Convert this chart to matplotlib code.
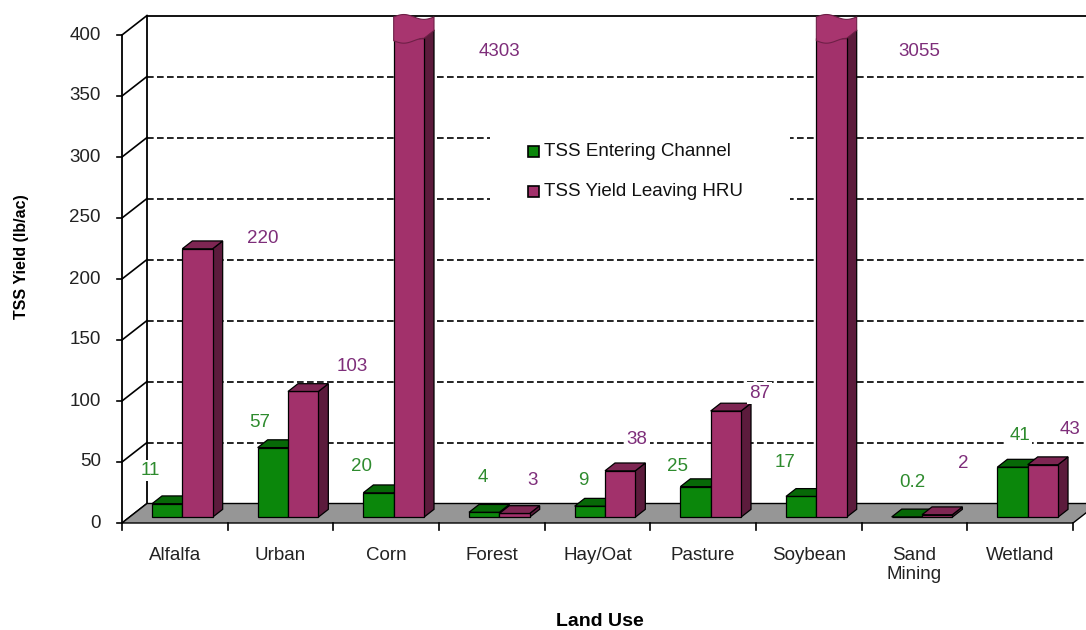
import numpy as np
import matplotlib
matplotlib.use("Agg")
import matplotlib.pyplot as plt
from matplotlib.patches import Polygon, Rectangle

# ---- data -------------------------------------------------------------
categories = ["Alfalfa", "Urban", "Corn", "Forest", "Hay/Oat", "Pasture",
              "Soybean", "Sand\nMining", "Wetland"]
tss_entering = [11, 57, 20, 4, 9, 25, 17, 0.2, 41]
tss_leaving = [220, 103, 4303, 3, 38, 87, 3055, 2, 43]
entering_labels = ["11", "57", "20", "4", "9", "25", "17", "0.2", "41"]
leaving_labels = ["220", "103", "4303", "3", "38", "87", "3055", "2", "43"]
y_ticks = [0, 50, 100, 150, 200, 250, 300, 350, 400]
series_names = ["TSS Entering Channel", "TSS Yield Leaving HRU"]

# label offsets from the top of each bar, in pixels
entering_offsets = [(-17, 33), (-13, 25), (-17, 26), (-1, 35), (-7, 26),
                    (-18, 20), (-16, 34), (6, 34), (7, 32)]
leaving_offsets = [(65, 10), (49, 25), (91, -14), (18, 33), (17, 31),
                   (34, 18), (88, -14), (26, 51), (27, 35)]

# ---- style ------------------------------------------------------------
plt.rcParams['font.family'] = ['Liberation Sans', 'DejaVu Sans']
GREEN = ('#0B870B', '#076807', '#045004')      # front, top, side
PLUM = ('#A2316B', '#7E2653', '#5C1B3C')
GREEN_TXT = '#2E8B2E'
PLUM_TXT = '#7E2E7A'
FLOOR = '#969696'

PX_X = 105.67          # pixels per category
PX_Y = 1.22            # pixels per lb/ac
DX = 25 / PX_X         # depth of the plot box (x)
DY = 19.5 / PX_Y       # depth of the plot box (y)
GAP = 0.426
W = (1 - GAP) / 2
FRONT = 0.3            # depth fraction where bar fronts sit
DEPTH = 0.4            # depth fraction of each bar
CUT = 393              # axis break for bars beyond the scale
YMAX = 400

fig = plt.figure(figsize=(10.86, 6.3), dpi=100)
ax = fig.add_axes([0, 0, 1, 1])
ax.set_xlim(-122 / PX_X, (1086 - 122) / PX_X)
ax.set_ylim((523 - 630) / PX_Y, 523 / PX_Y)
ax.axis('off')

n = len(categories)

# back-wall gridlines
for v in y_ticks[1:-1]:
    ax.plot([DX, n + DX], [v + DY, v + DY], color='black', lw=1.2,
            ls=(0, (4, 2)), zorder=1)
# top edge of back wall and wall corners
ax.plot([DX, n + DX], [YMAX + DY] * 2, color='black', lw=1.3, zorder=1)
ax.plot([DX, DX], [DY, YMAX + DY], color='black', lw=1.3, zorder=1)
ax.plot([0, 0], [0, YMAX], color='black', lw=1.3, zorder=2)
for v in y_ticks:
    ax.plot([0, DX], [v, v + DY], color='black', lw=1.2, zorder=2)
    ax.plot([-5 / PX_X, 0], [v, v], color='black', lw=1.2, zorder=2)
    ax.text(-0.2, v, str(v), ha='right', va='center', fontsize=13.5,
            color='#222222')

# floor
ax.add_patch(Polygon([(0, 0), (n, 0), (n + DX, DY), (DX, DY)], closed=True,
                     fc=FLOOR, ec='black', lw=1.0, zorder=2))
for i in range(n + 1):
    ax.plot([i, i], [0, -7 / PX_Y], color='black', lw=1.2, zorder=2)
for i, name in enumerate(categories):
    ax.text(i + 0.5, -19.5, name, ha='center', va='top', fontsize=13.5,
            color='#222222', linespacing=1.2)

# legend panel
ax.add_patch(Rectangle(((490 - 122) / PX_X, (523 - 217) / PX_Y),
                       300 / PX_X, 92 / PX_Y, fc='white', ec='none',
                       zorder=1.5))
for k, (name, col) in enumerate(zip(series_names, (GREEN, PLUM))):
    cy = (523 - (151 + 40 * k)) / PX_Y
    ax.add_patch(Rectangle(((528 - 122) / PX_X, cy - 5.5 / PX_Y),
                           11 / PX_X, 11 / PX_Y, fc=col[0], ec='black',
                           lw=1.2, zorder=3))
    ax.text((544 - 122) / PX_X, cy, name, ha='left', va='center',
            fontsize=13.5, color='#111111', zorder=3)


def draw_bar(x0, value, col, z):
    base = FRONT * DY
    ddx, ddy = DEPTH * DX, DEPTH * DY
    x1 = x0 + W
    broken = value > CUT
    h = min(value, CUT)
    top = base + h
    ax.add_patch(Polygon([(x1, base), (x1 + ddx, base + ddy),
                          (x1 + ddx, top + ddy), (x1, top)], closed=True,
                         fc=col[2], ec='black', lw=0.9, zorder=z))
    ax.add_patch(Rectangle((x0, base), W, h, fc=col[0], ec='black', lw=0.9,
                           zorder=z))
    if not broken:
        ax.add_patch(Polygon([(x0, top), (x1, top), (x1 + ddx, top + ddy),
                              (x0 + ddx, top + ddy)], closed=True,
                             fc=col[1], ec='black', lw=0.9, zorder=z))
    else:
        # wavy cap marking the axis break, resting on the bar top
        t = np.linspace(0, 1, 40)
        span = W + ddx
        bx = x0 + t * W
        by = top - 2.5 - 2.0 * np.sin(2 * np.pi * (bx - x0) / span)
        tx = (x0 + t * span)[::-1]
        ty = top + 17 + 2.0 * np.sin(2 * np.pi * (tx - x0) / span)
        pts = (list(zip(bx, by)) + [(x1 + ddx, by[-1] + ddy)]
               + list(zip(tx, ty)))
        ax.add_patch(Polygon(pts, closed=True, fc='#A8356F', ec='#6E2047',
                             lw=0.8, zorder=z + 0.5))
    return x0 + W / 2, top


for i in range(n):
    xg = i + FRONT * DX + GAP / 2
    gx, gy = draw_bar(xg, tss_entering[i], GREEN, 3 + 2 * i)
    px, py = draw_bar(xg + W, tss_leaving[i], PLUM, 4 + 2 * i)
    ax.annotate(entering_labels[i], (gx, gy), xytext=entering_offsets[i],
                textcoords='offset pixels', ha='center', va='center',
                fontsize=13.5, color=GREEN_TXT, zorder=30,
                bbox=dict(fc='white', ec='none', pad=1.5))
    ax.annotate(leaving_labels[i], (px, py), xytext=leaving_offsets[i],
                textcoords='offset pixels', ha='center', va='center',
                fontsize=13.5, color=PLUM_TXT, zorder=30,
                bbox=dict(fc='white', ec='none', pad=1.5))

# axis titles
ax.text(-100 / PX_X, (523 - 257) / PX_Y, "TSS Yield (lb/ac)", rotation=90,
        ha='center', va='center', fontsize=11.5, fontweight='bold')
ax.text((600 - 122) / PX_X, (523 - 621) / PX_Y, "Land Use", ha='center',
        va='center', fontsize=14, fontweight='bold')

fig.savefig("out.png", dpi=100, facecolor='white')
